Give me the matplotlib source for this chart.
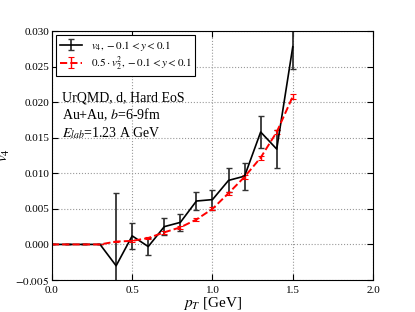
import matplotlib
matplotlib.use("Agg")
import matplotlib.pyplot as plt
import numpy as np

plt.rcParams['font.family'] = ['Liberation Serif', 'DejaVu Serif']
plt.rcParams['mathtext.fontset'] = 'stix'

# pT bins [GeV]
pt = [0.0, 0.1, 0.2, 0.3, 0.4, 0.5, 0.6, 0.7, 0.8, 0.9, 1.0, 1.1, 1.2, 1.3, 1.4, 1.5]
# v4 and errors
v4 = [0.0, 0.0, 0.0, 0.0, -0.0030, 0.0012, -0.0003, 0.0025, 0.0031, 0.0061, 0.0063, 0.0090, 0.0096, 0.0158, 0.0134, 0.0278]
v4_err = [0.0, 0.0, 0.0, 0.0, 0.0102, 0.0018, 0.0012, 0.0012, 0.0012, 0.0013, 0.0014, 0.0017, 0.0019, 0.0023, 0.0027, 0.0031]
# 0.5*v2^2 and errors
v22 = [0.0, 0.0, 0.0, 0.0, 0.0004, 0.0005, 0.0009, 0.0017, 0.0024, 0.0035, 0.0050, 0.0072, 0.0095, 0.0122, 0.0158, 0.0208]
v22_err = [0.0, 0.0, 0.0, 0.0, 0.0001, 0.0001, 0.0001, 0.0002, 0.0002, 0.0002, 0.0002, 0.0002, 0.0003, 0.0003, 0.0003, 0.0003]

fig = plt.figure(figsize=(4.15, 3.12), dpi=100)
ax = fig.add_axes([0.125, 0.1026, 0.774, 0.7980])

ax.errorbar(pt, v4, yerr=v4_err, color='black', ecolor='#333333', lw=1.2,
            elinewidth=1.3, capsize=2.5, capthick=1.0,
            label=r'$v_4, -0.1 < y < 0.1$')
ax.errorbar(pt, v22, yerr=v22_err, color='red', ecolor='red', lw=1.4, ls='--',
            elinewidth=1.0, capsize=2.0, capthick=0.8,
            label=r'$0.5 \cdot v_2^2, -0.1 < y < 0.1$')

ax.set_xlim(0.0, 2.0)
ax.set_ylim(-0.005, 0.030)
ax.set_xticks([0.0, 0.5, 1.0, 1.5, 2.0])
ax.set_yticks([-0.005, 0.0, 0.005, 0.010, 0.015, 0.020, 0.025, 0.030])
ax.set_yticklabels(['$-0.005$', '0.000', '0.005', '0.010', '0.015', '0.020', '0.025', '0.030'])
ax.tick_params(direction='in', top=True, right=True, labelsize=8, length=4, pad=2)
ax.tick_params(axis='x', pad=4)
ax.grid(True, color='#999999', ls=':', lw=0.8)

ax.set_xlabel(r'$p_T$ [GeV]', fontsize=11, labelpad=0)
ax.set_ylabel(r'$v_4$', fontsize=11, labelpad=2)

ax.text(0.03, 0.715, 'UrQMD, d, Hard EoS', transform=ax.transAxes, fontsize=10, va='baseline')
ax.text(0.03, 0.645, r'Au+Au, $b$=6-9fm', transform=ax.transAxes, fontsize=10, va='baseline')
ax.text(0.03, 0.572, r'$E_{lab}$=1.23 A GeV', transform=ax.transAxes, fontsize=10, va='baseline')

leg = ax.legend(loc='upper left', fontsize=8, fancybox=False, framealpha=1,
                edgecolor='black', borderaxespad=0.4, handlelength=2.0,
                labelspacing=0.15, borderpad=0.3)
leg.get_frame().set_linewidth(0.8)

fig.savefig('out.png', dpi=100, facecolor='white')
